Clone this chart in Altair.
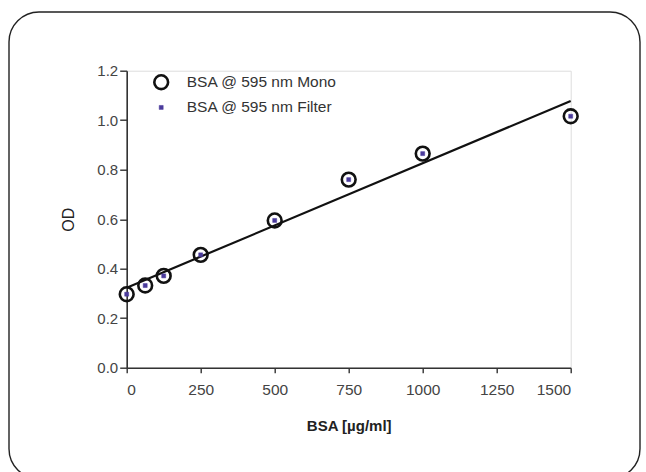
import altair as alt
import pandas as pd

# Data
bsa = [0, 62.5, 125, 250, 500, 750, 1000, 1500]
od_mono = [0.297, 0.332, 0.371, 0.456, 0.595, 0.760, 0.865, 1.016]
od_filter = [0.297, 0.332, 0.371, 0.456, 0.595, 0.760, 0.865, 1.016]
series_names = ["BSA @ 595 nm Mono", "BSA @ 595 nm Filter"]
x_ticks = [0, 250, 500, 750, 1000, 1250, 1500]
y_ticks = [0.0, 0.2, 0.4, 0.6, 0.8, 1.0, 1.2]

rows = []
for x, y in zip(bsa, od_mono):
    rows.append({"bsa": x, "od": y, "series": series_names[0]})
for x, y in zip(bsa, od_filter):
    rows.append({"bsa": x, "od": y, "series": series_names[1]})
df = pd.DataFrame(rows)

FONT = "Liberation Sans"
PURPLE = "#4b3b9c"

x_enc = alt.X("bsa:Q", scale=alt.Scale(domain=[0, 1500], nice=False, zero=False),
              axis=alt.Axis(values=x_ticks, format="d", title="BSA [µg/ml]", grid=False,
                            titleFontWeight="bold", titleFontSize=15, titleFont=FONT,
                            titleColor="#222", titlePadding=20,
                            labelFont=FONT, labelFontSize=15.5, labelColor="#444",
                            labelPadding=10, tickSize=5, tickColor="#333",
                            domainColor="#333", domainWidth=1.6, tickWidth=1.4))
y_enc = alt.Y("od:Q", scale=alt.Scale(domain=[0, 1.2], nice=False),
              axis=alt.Axis(values=y_ticks, format=".1f", title="OD", grid=False,
                            titleFontSize=16, titleFont=FONT, titleColor="#222",
                            titleFontWeight="normal", titlePadding=20,
                            labelFont=FONT, labelFontSize=15, labelColor="#444",
                            labelPadding=2, tickSize=7, tickColor="#333",
                            domainColor="#333", domainWidth=1.6, tickWidth=1.4))

base = alt.Chart(df)

line = base.transform_filter(
    alt.datum.series == series_names[0]
).transform_regression("bsa", "od", extent=[0, 1500]).mark_line(
    color="#111", strokeWidth=2.2
).encode(x=x_enc, y=y_enc)

legend = alt.Legend(title=None, orient="none", legendX=26, legendY=3,
                    labelFont=FONT, labelFontSize=15.5, labelColor="#333",
                    rowPadding=5, labelOffset=17, padding=0, symbolSize=190,
                    symbolStrokeWidth=2.6)
dom = series_names

points = base.mark_point(filled=False, opacity=1).encode(
    x=x_enc, y=y_enc,
    shape=alt.Shape("series:N", scale=alt.Scale(domain=dom, range=["circle", "square"]),
                    legend=legend),
    stroke=alt.Stroke("series:N", scale=alt.Scale(domain=dom, range=["#111", PURPLE]),
                      legend=legend),
    fill=alt.Fill("series:N", scale=alt.Scale(domain=dom, range=["transparent", PURPLE]),
                  legend=legend),
    size=alt.Size("series:N", scale=alt.Scale(domain=dom, range=[190, 16]),
                  legend=legend),
    strokeWidth=alt.StrokeWidth("series:N", scale=alt.Scale(domain=dom, range=[2.6, 0.5]),
                                legend=legend),
    order=alt.Order("order:Q"),
).transform_calculate(order=f"datum.series == '{series_names[0]}' ? 0 : 1")

frame = alt.Chart(pd.DataFrame({"a": [0]})).mark_rect(
    filled=False, stroke="#222", strokeWidth=1.4, cornerRadius=30, clip=False
).encode(x=alt.value(-117.7), x2=alt.value(513.3), y=alt.value(-58.7), y2=alt.value(408))

chart = alt.layer(frame, line, points).properties(
    width=444, height=297,
    padding={"left": 126.7, "top": 70.7, "right": 75.3, "bottom": 104.3},
    autosize=alt.AutoSizeParams(type="none"),
).configure_view(stroke=None).configure(background="white")

chart.save("out.html", embed_options={"renderer": "svg", "actions": False})
